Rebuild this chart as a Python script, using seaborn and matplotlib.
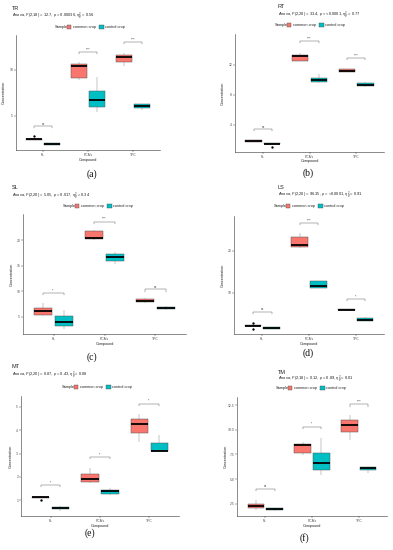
import numpy as np
import pandas as pd
import seaborn as sns
import matplotlib.pyplot as plt
from matplotlib.patches import Patch

# categories
compounds = ["FL", "PCA's", "TPC"]
samples = ["common crop", "control crop"]
colors = ["#F8766D", "#00BFC4"]

# TR
tr_common = [[2.30, 2.32, 2.34, 2.38, 2.41, 2.44, 2.48, 2.50, 2.72],
             [8.92, 9.14, 10.40, 10.65, 10.79],
             [10.36, 10.83, 11.40, 11.55, 11.80]]
tr_control = [[1.80, 1.83, 1.91, 1.98, 2.00],
              [5.40, 5.94, 6.65, 7.63, 9.17],
              [5.65, 5.86, 6.08, 6.26, 6.30]]
tr_brackets = [3.81, 11.9, 13.0]
tr_signif = ["ns", "****", "****"]
tr_ticks = [5, 10]

# RT
rt_common = [[1.66, 1.70, 1.79, 1.88, 1.90],
             [12.45, 12.54, 13.20, 13.34, 13.60],
             [11.00, 11.07, 11.20, 11.38, 11.40]]
rt_control = [[1.04, 1.32, 1.35, 1.40, 1.43, 1.48, 1.52, 1.55, 1.56],
              [9.57, 9.66, 9.97, 10.20, 10.70],
              [8.97, 9.10, 9.30, 9.50, 9.66]]
rt_brackets = [3.38, 15.1, 12.9]
rt_signif = ["ns", "****", "****"]
rt_ticks = [4, 8, 12]

# SL
sl_common = [[5.13, 5.33, 6.17, 6.76, 7.80],
             [20.00, 20.33, 20.46, 21.90, 22.00],
             [7.80, 7.87, 8.20, 8.52, 8.78]]
sl_control = [[2.72, 3.30, 4.02, 5.20, 6.43],
              [15.30, 15.96, 16.68, 17.40, 17.80],
              [6.40, 6.50, 6.83, 7.02, 7.10]]
sl_brackets = [9.7, 23.7, 10.4]
sl_signif = ["**", "****", "ns"]
sl_ticks = [5, 10, 15, 20]

# LS
ls_common = [[1.42, 1.95, 1.97, 2.05, 2.13, 2.20, 2.28, 2.30, 2.83],
             [20.60, 20.94, 21.34, 23.20, 24.10],
             [5.80, 5.83, 5.98, 6.14, 6.16]]
ls_control = [[1.40, 1.42, 1.65, 1.89, 1.92],
              [11.10, 11.18, 11.57, 12.68, 12.80],
              [3.20, 3.23, 3.46, 3.86, 4.17]]
ls_brackets = [5.5, 26.5, 8.43]
ls_signif = ["ns", "****", "**"]
ls_ticks = [10, 20]

# MT
mt_common = [[1.01, 1.10, 1.11, 1.12, 1.13, 1.15, 1.16, 1.17, 1.18],
             [1.73, 1.79, 1.93, 2.11, 2.37],
             [3.49, 3.86, 4.25, 4.48, 4.68]]
mt_control = [[0.56, 0.62, 0.68, 0.73, 0.76],
              [1.23, 1.28, 1.41, 1.45, 1.52],
              [3.07, 3.10, 3.13, 3.45, 3.80]]
mt_brackets = [1.65, 2.86, 5.14]
mt_signif = ["*", "**", "**"]
mt_ticks = [1, 2, 3, 4, 5]

# TM
tm_common = [[1.83, 2.03, 2.23, 2.50, 2.93],
             [7.47, 7.67, 8.47, 8.57, 8.80],
             [8.93, 9.73, 10.53, 10.97, 11.47]]
tm_control = [[1.80, 1.83, 1.93, 2.03, 2.05],
              [5.37, 5.90, 6.63, 7.67, 9.20],
              [5.63, 5.90, 6.10, 6.23, 6.27]]
tm_brackets = [4.0, 10.33, 12.57]
tm_signif = ["ns", "*", "****"]
tm_ticks = [2.5, 5.0, 7.5, 10.0, 12.5]

panels = [
    ("(a)", "TR", r"Anova, $\it{F}$(2,18) = 12.7, $\it{p}$ = 0.00036, $\eta^2_g$ = 0.56",
     tr_common, tr_control, tr_brackets, tr_signif, tr_ticks),
    ("(b)", "RT", r"Anova, $\it{F}$(2,20) = 33.4, $\it{p}$ = <0.0001, $\eta^2_g$ = 0.77",
     rt_common, rt_control, rt_brackets, rt_signif, rt_ticks),
    ("(c)", "SL", r"Anova, $\it{F}$(2,20) = 5.05, $\it{p}$ = 0.017, $\eta^2_g$ = 0.34",
     sl_common, sl_control, sl_brackets, sl_signif, sl_ticks),
    ("(d)", "LS", r"Anova, $\it{F}$(2,20) = 96.35, $\it{p}$ = <0.0001, $\eta^2_g$ = 0.91",
     ls_common, ls_control, ls_brackets, ls_signif, ls_ticks),
    ("(e)", "MT", r"Anova, $\it{F}$(2,20) = 0.87, $\it{p}$ = 0.43, $\eta^2_g$ = 0.08",
     mt_common, mt_control, mt_brackets, mt_signif, mt_ticks),
    ("(f)", "TM", r"Anova, $\it{F}$(2,18) = 0.12, $\it{p}$ = 0.89, $\eta^2_g$ = 0.01",
     tm_common, tm_control, tm_brackets, tm_signif, tm_ticks),
]

# layout in pixels: axes [left, top, right, bottom], title xy, subtitle y, legend xy, caption xy, ylabel x, xlabel y
layout = [
    dict(ax=[16, 35, 160, 150], title=(12, 9), sub=16, leg=(55, 27), cap=(92, 174), ylab=6, xlab=158),
    dict(ax=[235, 34, 384, 152], title=(278, 7), sub=15, leg=(275, 25), cap=(308, 173), ylab=225, xlab=159),
    dict(ax=[23, 214, 186, 334], title=(12, 187), sub=196, leg=(63, 206), cap=(92, 357), ylab=14, xlab=342),
    dict(ax=[234, 216, 384, 334], title=(278, 187), sub=195, leg=(274, 206), cap=(308, 353), ylab=225, xlab=342),
    dict(ax=[21, 396, 179, 516], title=(12, 367), sub=375, leg=(62, 387), cap=(90, 533), ylab=13, xlab=524),
    dict(ax=[237, 397, 387, 516], title=(278, 372), sub=379, leg=(276, 388), cap=(304, 538), ylab=228, xlab=524),
]

W, H = 393, 550
sns.set_theme(style="ticks")
plt.rcParams["font.family"] = ["Liberation Sans", "DejaVu Sans"]
plt.rcParams["mathtext.fontset"] = "custom"
plt.rcParams["mathtext.rm"] = "Liberation Sans"
plt.rcParams["mathtext.it"] = "Liberation Sans:italic"

fig = plt.figure(figsize=(W / 100, H / 100), dpi=100)
fig.patch.set_facecolor("white")


def fx(x):
    return x / W


def fy(y):
    return 1 - y / H


def make_df(common, control):
    rows = []
    for s, groups in zip(samples, [common, control]):
        for c, vals in zip(compounds, groups):
            for v in vals:
                rows.append((c, s, v))
    return pd.DataFrame(rows, columns=["Compound", "Sample", "Concentration"])


for (cap, name, sub, common, control, brackets, signif, ticks), lay in zip(panels, layout):
    l, t, r, b = lay["ax"]
    ax = fig.add_axes([fx(l), fy(b), (r - l) / W, (b - t) / H])
    df = make_df(common, control)
    sns.boxplot(data=df, x="Compound", y="Concentration", hue="Sample",
                order=compounds, hue_order=samples, palette=colors, saturation=1,
                width=0.8, gap=0.125, linewidth=0.35, linecolor="#555555",
                showcaps=False, fliersize=0.7,
                flierprops=dict(marker="o", markerfacecolor="black", markeredgecolor="black"),
                whiskerprops=dict(color="#888888"),
                medianprops=dict(color="black", linewidth=1.3),
                legend=False, ax=ax)

    lo = df["Concentration"].min()
    hi = max(brackets)
    rng = hi - lo
    ax.set_ylim(lo - 0.05 * rng, hi + 0.07 * rng)
    ax.set_xlim(-0.6, 2.6)

    # significance brackets
    tip = 0.02 * rng
    for i, (yb, lab) in enumerate(zip(brackets, signif)):
        ax.plot([i - 0.2, i - 0.2, i + 0.2, i + 0.2], [yb - tip, yb, yb, yb - tip],
                color="#666666", lw=0.35)
        ax.text(i, yb + 0.005 * rng, lab, ha="center", va="bottom", fontsize=2.2, color="#333333")

    ax.set_yticks(ticks)
    if isinstance(ticks[0], float):
        ax.set_yticklabels([f"{v:.1f}" for v in ticks])
    ax.tick_params(labelsize=2.4, length=1.2, width=0.35, pad=0.8, colors="#4d4d4d")
    for sp in ["top", "right"]:
        ax.spines[sp].set_visible(False)
    for sp in ["left", "bottom"]:
        ax.spines[sp].set_linewidth(0.4)
        ax.spines[sp].set_color("#333333")
    ax.set_facecolor("white")

    ax.set_xlabel("Compound", fontsize=2.7, color="#222222")
    ax.set_ylabel("Concentration", fontsize=2.7, color="#222222")
    ax.yaxis.set_label_coords(-(l - lay["ylab"]) / (r - l), 0.5)
    ax.xaxis.set_label_coords(0.5, -(lay["xlab"] - b) / (b - t))

    # title, subtitle
    tx, ty = lay["title"]
    fig.text(fx(tx), fy(ty), name, fontsize=4, ha="left", va="center", color="#222222")
    fig.text(fx(tx), fy(lay["sub"]), sub, fontsize=2.9, ha="left", va="center", color="#222222")

    # legend on top
    lx, ly = lay["leg"]
    fig.text(fx(lx), fy(ly), "Sample", fontsize=2.8, ha="left", va="center", color="#222222")
    handles = [Patch(facecolor=c, edgecolor="#4d4d4d", lw=0.3) for c in colors]
    fig.legend(handles, samples, loc="center left", bbox_to_anchor=(fx(lx + 12), fy(ly)),
               ncol=2, frameon=False, fontsize=2.8, handlelength=1.1, handleheight=1.1,
               handletextpad=0.4, columnspacing=0.9, borderpad=0, borderaxespad=0)

    cx, cy = lay["cap"]
    fig.text(fx(cx), fy(cy), cap, fontsize=7, ha="center", va="center",
             family=["Liberation Serif", "DejaVu Serif"], color="#111111")

fig.savefig("out.png", dpi=100, facecolor="white")
